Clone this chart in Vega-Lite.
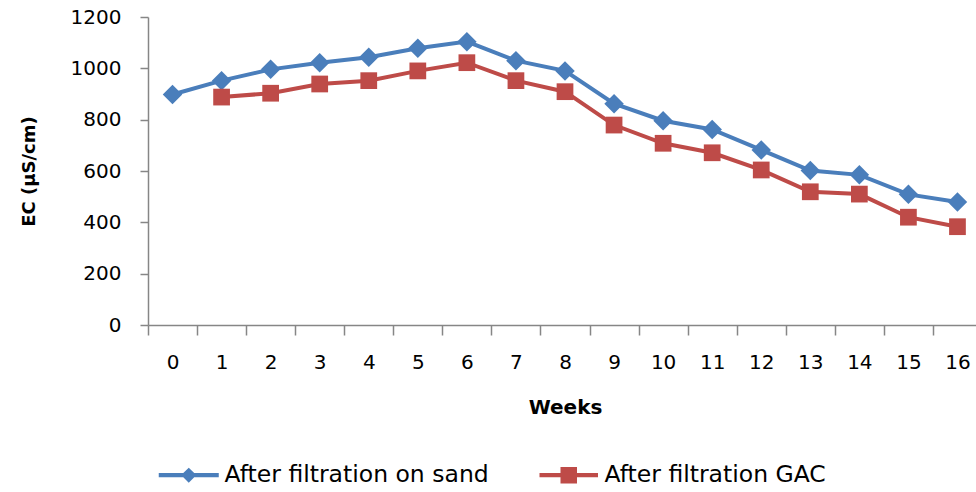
{
  "$schema": "https://vega.github.io/schema/vega-lite/v6.json",
  "width": 834,
  "height": 308,
  "autosize": {"type": "none"},
  "padding": {"left": 148, "top": 17, "right": 0, "bottom": 167},
  "background": "white",
  "config": {
    "view": {"stroke": null},
    "axis": {"grid": false, "domainColor": "#868686", "tickColor": "#868686", "labelColor": "#000000", "titleColor": "#000000", "domainWidth": 1.5, "tickWidth": 1.5}
  },
  "data": {
    "values": [
      {"week": 0, "series": "After filtration on sand", "ec": 898},
      {"week": 1, "series": "After filtration on sand", "ec": 952},
      {"week": 2, "series": "After filtration on sand", "ec": 996},
      {"week": 3, "series": "After filtration on sand", "ec": 1022},
      {"week": 4, "series": "After filtration on sand", "ec": 1043},
      {"week": 5, "series": "After filtration on sand", "ec": 1078},
      {"week": 6, "series": "After filtration on sand", "ec": 1104},
      {"week": 7, "series": "After filtration on sand", "ec": 1030},
      {"week": 8, "series": "After filtration on sand", "ec": 990},
      {"week": 9, "series": "After filtration on sand", "ec": 862},
      {"week": 10, "series": "After filtration on sand", "ec": 796},
      {"week": 11, "series": "After filtration on sand", "ec": 762},
      {"week": 12, "series": "After filtration on sand", "ec": 682},
      {"week": 13, "series": "After filtration on sand", "ec": 602},
      {"week": 14, "series": "After filtration on sand", "ec": 585},
      {"week": 15, "series": "After filtration on sand", "ec": 509},
      {"week": 16, "series": "After filtration on sand", "ec": 479},
      {"week": 1, "series": "After filtration GAC", "ec": 888},
      {"week": 2, "series": "After filtration GAC", "ec": 903},
      {"week": 3, "series": "After filtration GAC", "ec": 939},
      {"week": 4, "series": "After filtration GAC", "ec": 952},
      {"week": 5, "series": "After filtration GAC", "ec": 990},
      {"week": 6, "series": "After filtration GAC", "ec": 1022},
      {"week": 7, "series": "After filtration GAC", "ec": 952},
      {"week": 8, "series": "After filtration GAC", "ec": 909},
      {"week": 9, "series": "After filtration GAC", "ec": 779},
      {"week": 10, "series": "After filtration GAC", "ec": 708},
      {"week": 11, "series": "After filtration GAC", "ec": 671},
      {"week": 12, "series": "After filtration GAC", "ec": 604},
      {"week": 13, "series": "After filtration GAC", "ec": 519},
      {"week": 14, "series": "After filtration GAC", "ec": 510},
      {"week": 15, "series": "After filtration GAC", "ec": 420},
      {"week": 16, "series": "After filtration GAC", "ec": 383}
    ]
  },
  "encoding": {
    "x": {
      "field": "week",
      "type": "ordinal",
      "sort": "ascending",
      "scale": {"type": "band", "paddingInner": 0, "paddingOuter": 0},
      "axis": {
        "title": "Weeks",
        "labelAngle": 0,
        "tickBand": "extent",
        "tickSize": 10,
        "labelPadding": 17,
        "labelFont": "DejaVu Sans",
        "labelFontSize": 20,
        "titleFont": "DejaVu Sans",
        "titleFontSize": 20,
        "titleFontWeight": "bold",
        "titlePadding": 25
      }
    },
    "y": {
      "field": "ec",
      "type": "quantitative",
      "scale": {"domain": [0, 1200], "nice": false},
      "axis": {
        "title": "EC (µS/cm)",
        "values": [0, 200, 400, 600, 800, 1000, 1200],
        "format": "d",
        "tickSize": 8,
        "labelPadding": 19,
        "labelFont": "DejaVu Sans",
        "labelFontSize": 20,
        "titleFont": "DejaVu Sans",
        "titleFontSize": 18,
        "titleFontWeight": "bold",
        "titlePadding": 32
      }
    },
    "color": {
      "field": "series",
      "type": "nominal",
      "scale": {"domain": ["After filtration on sand", "After filtration GAC"], "range": ["#4a7ebb", "#be4b48"]},
      "legend": null
    }
  },
  "layer": [
    {
      "mark": {"type": "line", "strokeWidth": 4},
      "encoding": {
        "color": {
          "field": "series",
          "type": "nominal",
          "scale": {"domain": ["After filtration on sand", "After filtration GAC"], "range": ["#4a7ebb", "#be4b48"]},
          "legend": {
            "title": null,
            "orient": "none",
            "direction": "horizontal",
            "legendX": 29,
            "legendY": 446,
            "padding": 0,
            "symbolSize": 225,
            "symbolType": "M-4,-0.27H-0.73L0,-1L0.73,-0.27H4V0.27H0.73L0,1L-0.73,0.27H-4Z",
            "symbolStrokeWidth": 0,
            "labelOffset": 24,
            "columnPadding": 50,
            "labelFont": "DejaVu Sans",
            "labelFontSize": 23.5,
            "labelColor": "#000000",
            "labelLimit": 500,
            "encode": {
              "symbols": {
                "update": {
                  "shape": {"signal": "datum.value === 'After filtration on sand' ? 'M-4,-0.27H-0.73L0,-1L0.73,-0.27H4V0.27H0.73L0,1L-0.73,0.27H-4Z' : 'M-3.9,-0.27H-1.1V-1.1H1.1V-0.27H3.9V0.27H1.1V1.1H-1.1V0.27H-3.9Z'"},
                  "fill": {"signal": "datum.value === 'After filtration on sand' ? '#4a7ebb' : '#be4b48'"},
                  "fillOpacity": {"value": 1},
                  "strokeWidth": {"value": 0},
                  "opacity": {"value": 1}
                }
              }
            }
          }
        }
      }
    },
    {
      "transform": [{"filter": "datum.series === 'After filtration on sand'"}],
      "mark": {"type": "point", "filled": true, "opacity": 1, "size": 380, "strokeWidth": 0, "shape": "diamond"}
    },
    {
      "transform": [{"filter": "datum.series === 'After filtration GAC'"}],
      "mark": {"type": "point", "filled": true, "opacity": 1, "size": 280, "strokeWidth": 0, "shape": "square"}
    }
  ]
}
